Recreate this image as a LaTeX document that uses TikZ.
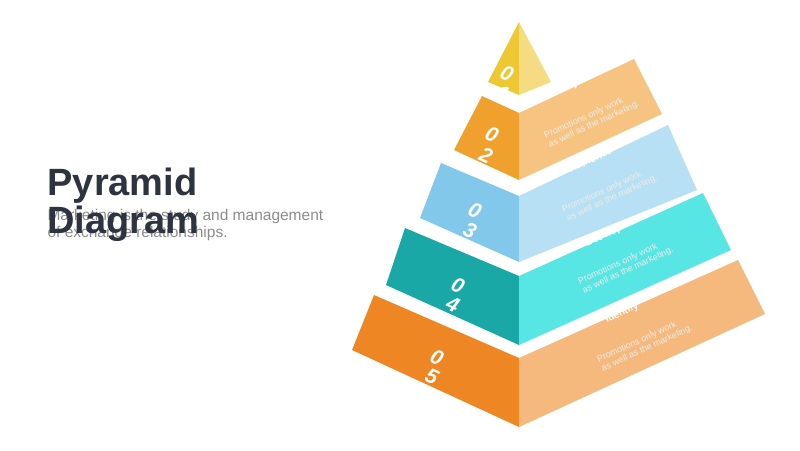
\documentclass[tikz,border=0pt]{standalone}
\usepackage{fontspec}
\setmainfont{Liberation Sans}
\usetikzlibrary{positioning}
\definecolor{titlegray}{RGB}{45,52,64}
\definecolor{textgray}{RGB}{140,140,140}
\definecolor{yellowdark}{RGB}{238,200,50}
\definecolor{yellowlight}{RGB}{245,220,130}
\definecolor{orangedark}{RGB}{240,160,45}
\definecolor{orangelight}{RGB}{246,196,128}
\definecolor{bluedark}{RGB}{130,200,235}
\definecolor{bluelight}{RGB}{183,224,245}
\definecolor{tealdark}{RGB}{25,168,165}
\definecolor{teallight}{RGB}{88,230,228}
\definecolor{rustdark}{RGB}{238,135,35}
\definecolor{rustlight}{RGB}{245,185,125}
\tikzset{
    % Text styles
    digit/.style={
        text=white,
        font=\fontsize{21}{21}\selectfont\bfseries\itshape,
        rotate=-25
    },
    step label/.style={
        text=white,
        font=\fontsize{10}{10}\selectfont\bfseries,
        rotate=25
    },
    step text/.style={
        text=white!85!gray,
        font=\fontsize{9}{10}\selectfont,
        align=left,
        rotate=25
    }
}
\begin{document}
\begin{tikzpicture}[x=1pt,y=-1pt]
        \useasboundingbox (0,0) rectangle (800,450);
        % Title
        \node[anchor=west, text=textgray, font=\fontsize{15.5}{17}\selectfont, align=left] (subtitle) at (44,225) {Marketing is the study and management\\of exchange relationships.};
        \node[anchor=west, text=titlegray, font=\fontsize{38}{38}\selectfont\bfseries] (title) at (44,186) {Pyramid};
        \node[anchor=west, text=titlegray, font=\fontsize{38}{38}\selectfont\bfseries] (title2) at (44,224) {Diagram};

        % Layer 1
        \fill[yellowdark] (519,22) -- (488,82) -- (519,95) -- cycle;
        \fill[yellowlight] (519,22) -- (519,95) -- (551,82) -- cycle;
        \node[digit] (n1a) at (507,73) {0};
        \node[digit] (n1b) at (503,93) {1};

        % Layer 2
        \fill[orangedark] (482,96) -- (519,113) -- (519,180) -- (454,150) -- cycle;
        \fill[orangelight] (519,113) -- (634,59) -- (662,114) -- (519,180) -- cycle;
        \node[digit] (n2a) at (492,134) {0};
        \node[digit] (n2b) at (486,155) {2};
        \node[step label] (l1) at (570,86) {Analyze};
        \node[step text] (t1) at (592,120) {Promotions only work\\as well as the marketing.};

        % Layer 3
        \fill[bluedark] (441,163) -- (519,196) -- (519,262) -- (420,218) -- cycle;
        \fill[bluelight] (519,196) -- (668,125) -- (697,190) -- (519,262) -- cycle;
        \node[digit] (n3a) at (475,210) {0};
        \node[digit] (n3b) at (470,230) {3};
        \node[step label] (l2) at (590,160) {Authorize};
        \node[step text] (t2) at (610,194) {Promotions only work\\as well as the marketing.};

        % Layer 4
        \fill[tealdark] (405,228) -- (519,276) -- (519,345) -- (386,285) -- cycle;
        \fill[teallight] (519,276) -- (703,193) -- (731,250) -- (519,345) -- cycle;
        \node[digit] (n4a) at (458,285) {0};
        \node[digit] (n4b) at (453,304) {4};
        \node[step label] (l3) at (604,236) {Develop};
        \node[step text] (t3) at (626,266) {Promotions only work\\as well as the marketing.};

        % Layer 5
        \fill[rustdark] (374,295) -- (519,358) -- (519,427) -- (352,350) -- cycle;
        \fill[rustlight] (519,358) -- (738,260) -- (765,314) -- (519,427) -- cycle;
        \node[digit] (n5a) at (437,357) {0};
        \node[digit] (n5b) at (432,377) {5};
        \node[step label] (l4) at (622,313) {Identify};
        \node[step text] (t4) at (645,344) {Promotions only work\\as well as the marketing.};
    \end{tikzpicture}
\end{document}
